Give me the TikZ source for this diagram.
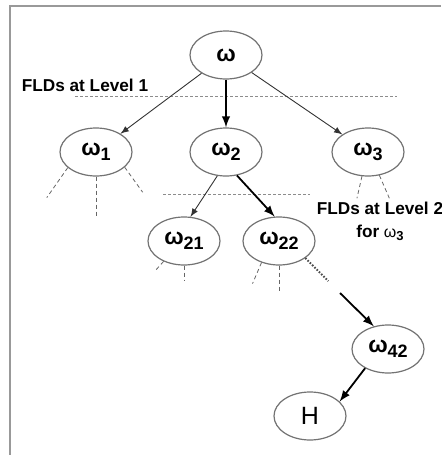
\documentclass[tikz,border=0pt]{standalone}
\usepackage{fontspec}
\setmainfont{Liberation Sans}
\usetikzlibrary{shapes.geometric, arrows, calc}
\newcommand{\om}[1]{{\fontsize{11.5}{13}\selectfont ω}\raisebox{-2.5pt}{\fontsize{9}{10}\selectfont #1}}
\newcommand{\omsmall}[1]{{\fontsize{8}{10}\selectfont\mdseries ω}\raisebox{-1.5pt}{\fontsize{6.5}{8}\selectfont #1}}
\tikzstyle{fld} = [ellipse, minimum width=36pt, minimum height=24pt, inner sep=0pt, text centered, draw=black!55, fill=white, line width=0.6pt, font=\bfseries]
\tikzstyle{levellabel} = [font=\fontsize{8.6}{10.5}\selectfont\bfseries, inner sep=0pt, align=center]
\tikzstyle{treearrow} = [line width=0.45pt, draw=black!80, -latex]
\tikzstyle{patharrow} = [line width=0.9pt, -latex]
\tikzstyle{stub} = [line width=0.4pt, draw=black!60, dash pattern=on 2pt off 1.5pt]
\tikzstyle{levelline} = [line width=0.4pt, draw=black!45, dash pattern=on 1.5pt off 1pt]

\begin{document}
\begin{tikzpicture}[x=0.5pt, y=-0.5pt]
    \useasboundingbox (0,0) rectangle (441,455);
    \draw[black!40, line width=1pt] (10,455) -- (10,6) -- (441,6);

    % Nodes
    \node (root) [fld] at (226,55) {{\fontsize{11.5}{13}\selectfont ω}};
    \node (w1) [fld] at ($(root)+(-130,97)$) {\om{1}};
    \node (w2) [fld] at ($(root)+(0,97)$) {\om{2}};
    \node (w3) [fld] at ($(root)+(142,97)$) {\om{3}};
    \node (w21) [fld] at ($(w2)+(-42,89)$) {\om{21}};
    \node (w22) [fld] at ($(w2)+(53,89)$) {\om{22}};
    \node (w42) [fld] at ($(w22)+(109,108)$) {\om{42}};
    \node (h) [fld] at ($(w42)+(-78,67)$) {{\fontsize{12.5}{14}\selectfont\mdseries H}};

    % Levels
    \draw[levelline] (75,96) -- (397,96);
    \draw[levelline] (163,194) -- (310,194);
    \node (lvl1) [levellabel] at (85,85) {FLDs at Level 1};
    \node (lvl2) [levellabel] at (380,221) {FLDs at Level 2\\[1pt] for \omsmall{3}};

    % Arrows
    \draw [treearrow] (root) -- (w1);
    \draw [patharrow] (root) -- (w2);
    \draw [treearrow] (root) -- (w3);
    \draw [treearrow] (w2.250) -- (w21.75);
    \draw [patharrow] (w2.295) -- (w22.100);
    \coordinate (gap) at ($(w22)+(61,52)$);
    \draw [patharrow] (gap) -- (w42.122);
    \draw [patharrow] (w42.220) -- (h.26);

    % Unexpanded branches
    \draw [stub] (w1.209) -- ++(-21,30);
    \draw [stub] (w1.south) -- ++(0,40);
    \draw [stub] (w1.332) -- ++(18,25);
    \draw [stub] (w3.256) -- ++(-5,22);
    \draw [stub] (w3.296) -- ++(10,23);
    \draw [stub] (w21.225) -- ++(-9,10);
    \draw [stub] (w21.south) -- ++(0,15);
    \draw [stub] (w22.231) -- ++(-9,21);
    \draw [stub] (w22.south) -- ++(0,25);
    \draw [line width=1pt, draw=black!70, dash pattern=on 0.8pt off 0.8pt] (w22.327) -- ++(23,23);
\end{tikzpicture}
\end{document}
